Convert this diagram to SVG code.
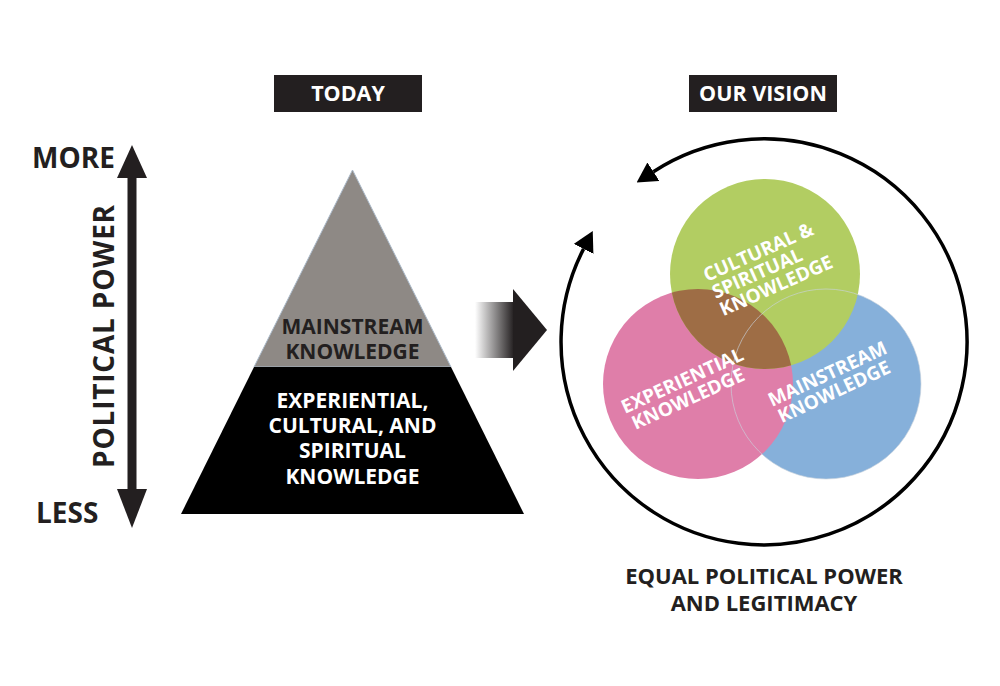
<svg xmlns="http://www.w3.org/2000/svg" width="1000" height="686" viewBox="0 0 1000 686">
  <style>
    text { font-family: "Open Sans", "Liberation Sans", sans-serif; font-weight: bold; }
    .dark { fill: #231f20; }
    .white { fill: #ffffff; }
    .hdr { font-size: 21.5px; fill: #ffffff; text-anchor: middle; }
    .pyr { font-size: 21px; text-anchor: middle; }
    .venn { font-size: 19px; fill: #ffffff; }
    .side { font-size: 28px; fill: #231f20; }
    .cap { font-size: 22px; fill: #231f20; text-anchor: middle; }
    .ring { fill: none; stroke: #000000; stroke-width: 3.5; }
  </style>
  <defs>
    <linearGradient id="fade" x1="0" y1="0" x2="1" y2="0">
      <stop offset="0" stop-color="#ffffff"/>
      <stop offset="1" stop-color="#231f20"/>
    </linearGradient>
    <marker id="ringHead" markerUnits="userSpaceOnUse" viewBox="0 0 20 22" refX="0" refY="11" markerWidth="20" markerHeight="22" orient="auto-start-reverse">
      <path d="M0,0 L20,11 L0,22 z" fill="#000000"/>
    </marker>
    <clipPath id="clipGreen">
      <circle cx="765" cy="274" r="95"/>
    </clipPath>
  </defs>

  <g id="header-today">
    <rect x="274" y="75" width="148" height="37" fill="#231f20"/>
    <text class="hdr" x="348" y="101">TODAY</text>
  </g>
  <g id="header-vision">
    <rect x="689" y="75" width="148" height="37" fill="#231f20"/>
    <text class="hdr" x="763" y="101">OUR VISION</text>
  </g>

  <g id="power-axis">
    <rect x="127.5" y="175" width="9" height="317" fill="#231f20"/>
    <polygon points="132,145 147,178 117,178" fill="#231f20"/>
    <polygon points="132,528 147,489 117,489" fill="#231f20"/>
    <text class="side" x="32" y="168">MORE</text>
    <text class="side" x="36" y="523">LESS</text>
    <text class="side" transform="translate(114,336) rotate(-90)" text-anchor="middle" letter-spacing="0.8">POLITICAL POWER</text>
  </g>

  <g id="pyramid-top">
    <polygon points="352.5,170 451,367 254,367" fill="#8e8985" stroke="#a9b8c8" stroke-width="1"/>
    <text class="pyr dark" x="352.5" y="334">MAINSTREAM</text>
    <text class="pyr dark" x="352.5" y="359">KNOWLEDGE</text>
  </g>
  <g id="pyramid-base">
    <polygon points="254,367 451,367 524,514 181,514" fill="#000000"/>
    <text class="pyr white" x="352.5" y="408">EXPERIENTIAL,</text>
    <text class="pyr white" x="352.5" y="433">CULTURAL, AND</text>
    <text class="pyr white" x="352.5" y="458">SPIRITUAL</text>
    <text class="pyr white" x="352.5" y="484">KNOWLEDGE</text>
  </g>

  <g id="transition-arrow">
    <rect x="475" y="302" width="39" height="56" fill="url(#fade)"/>
    <polygon points="513,289 547,330 513,371" fill="#231f20"/>
  </g>

  <g id="venn-mainstream">
    <circle cx="826" cy="384" r="95" fill="#86b0da"/>
  </g>
  <g id="venn-experiential">
    <circle cx="698" cy="384" r="95" fill="#df7ea9"/>
  </g>
  <g id="venn-cultural">
    <circle cx="765" cy="274" r="95" fill="#b2cd62"/>
    <circle cx="698" cy="384" r="95" fill="#9e6d45" clip-path="url(#clipGreen)"/>
    <circle cx="826" cy="384" r="95" fill="none" stroke="#c9d3dc" stroke-width="0.8" opacity="0.8"/>
  </g>
  <g id="venn-labels">
    <g transform="translate(707,282) rotate(-24)">
      <text class="venn" x="0" y="0">CULTURAL &amp;</text>
      <text class="venn" x="1" y="19">SPIRITUAL</text>
      <text class="venn" x="1" y="38">KNOWLEDGE</text>
    </g>
    <g transform="translate(625,414) rotate(-24.5)">
      <text class="venn" x="0" y="0">EXPERIENTIAL</text>
      <text class="venn" x="3" y="19">KNOWLEDGE</text>
    </g>
    <g transform="translate(772,407) rotate(-25)">
      <text class="venn" x="0" y="0">MAINSTREAM</text>
      <text class="venn" x="2" y="19">KNOWLEDGE</text>
    </g>
  </g>

  <g id="connectors">
    <path class="ring" d="M653.4,171.7 A203,203 0 1 1 583.6,248.9" marker-start="url(#ringHead)" marker-end="url(#ringHead)"/>
  </g>

  <g id="caption">
    <text class="cap" x="764" y="584">EQUAL POLITICAL POWER</text>
    <text class="cap" x="764" y="611">AND LEGITIMACY</text>
  </g>
</svg>
